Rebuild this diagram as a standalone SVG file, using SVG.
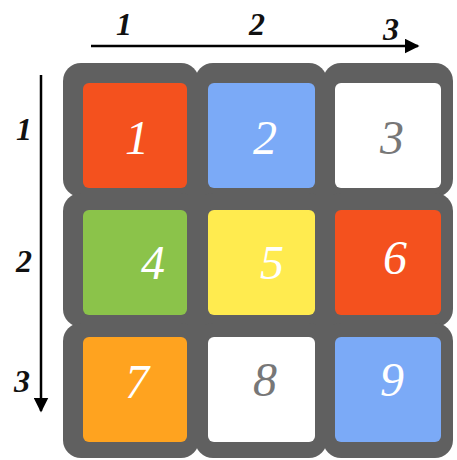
<svg xmlns="http://www.w3.org/2000/svg" width="457" height="460" viewBox="0 0 457 460">
<defs>
<style>
.tile{fill:#606060}
.cell{stroke:none}
.num{font-family:"Liberation Serif","DejaVu Serif",serif;font-style:italic;font-size:48px;text-anchor:middle;fill:#fff}
.dark{fill:#777}
.ax{font-family:"Liberation Serif","DejaVu Serif",serif;font-style:italic;font-weight:bold;font-size:32px;fill:#111;text-anchor:middle}
.line{stroke:#000;stroke-width:2.5;fill:none}
</style>
<marker id="ah" viewBox="0 0 10 10" refX="9" refY="5" markerWidth="6" markerHeight="6" markerUnits="strokeWidth" orient="auto">
<path d="M0,0 L10,5 L0,10 z" fill="#000"/>
</marker>
</defs>
<rect width="457" height="460" fill="#fff"/>
<g id="connectors">
<line class="line" x1="91" y1="46" x2="418" y2="46" marker-end="url(#ah)"/>
<line class="line" x1="41" y1="75" x2="41" y2="411" marker-end="url(#ah)"/>
</g>
<g id="axis-labels">
<text class="ax" x="124" y="35">1</text>
<text class="ax" x="257" y="35">2</text>
<text class="ax" x="391" y="40">3</text>
<text class="ax" x="24" y="140">1</text>
<text class="ax" x="24" y="272">2</text>
<text class="ax" x="22" y="392">3</text>
</g>
<rect class="tile" x="80" y="80" width="355" height="360"/>
<g id="cell1"><rect class="tile" x="63" y="63" width="136" height="134" rx="18"/><rect class="cell" x="83" y="83" width="104" height="105" rx="6" fill="#F4511E"/><text class="num" x="137" y="154">1</text></g>
<g id="cell2"><rect class="tile" x="195" y="63" width="132" height="134" rx="18"/><rect class="cell" x="208" y="83" width="107" height="105" rx="6" fill="#7BAAF7"/><text class="num" x="265" y="154">2</text></g>
<g id="cell3"><rect class="tile" x="323" y="63" width="130" height="134" rx="18"/><rect class="cell" x="335" y="83" width="106" height="105" rx="6" fill="#fff"/><text class="num dark" x="392" y="154">3</text></g>
<g id="cell4"><rect class="tile" x="63" y="193" width="136" height="134" rx="18"/><rect class="cell" x="83" y="210" width="104" height="105" rx="6" fill="#8BC34A"/><text class="num" x="153" y="279">4</text></g>
<g id="cell5"><rect class="tile" x="195" y="193" width="132" height="134" rx="18"/><rect class="cell" x="208" y="210" width="107" height="105" rx="6" fill="#FFEB4F"/><text class="num" x="272" y="279">5</text></g>
<g id="cell6"><rect class="tile" x="323" y="193" width="130" height="134" rx="18"/><rect class="cell" x="335" y="210" width="106" height="105" rx="6" fill="#F4511E"/><text class="num" x="395" y="274">6</text></g>
<g id="cell7"><rect class="tile" x="63" y="323" width="136" height="135" rx="18"/><rect class="cell" x="83" y="337" width="104" height="105" rx="6" fill="#FFA31F"/><text class="num" x="137" y="398">7</text></g>
<g id="cell8"><rect class="tile" x="195" y="323" width="132" height="135" rx="18"/><rect class="cell" x="208" y="337" width="107" height="105" rx="6" fill="#fff"/><text class="num dark" x="265" y="396">8</text></g>
<g id="cell9"><rect class="tile" x="323" y="323" width="130" height="135" rx="18"/><rect class="cell" x="335" y="337" width="106" height="105" rx="6" fill="#7BAAF7"/><text class="num" x="392" y="396">9</text></g>
</svg>
